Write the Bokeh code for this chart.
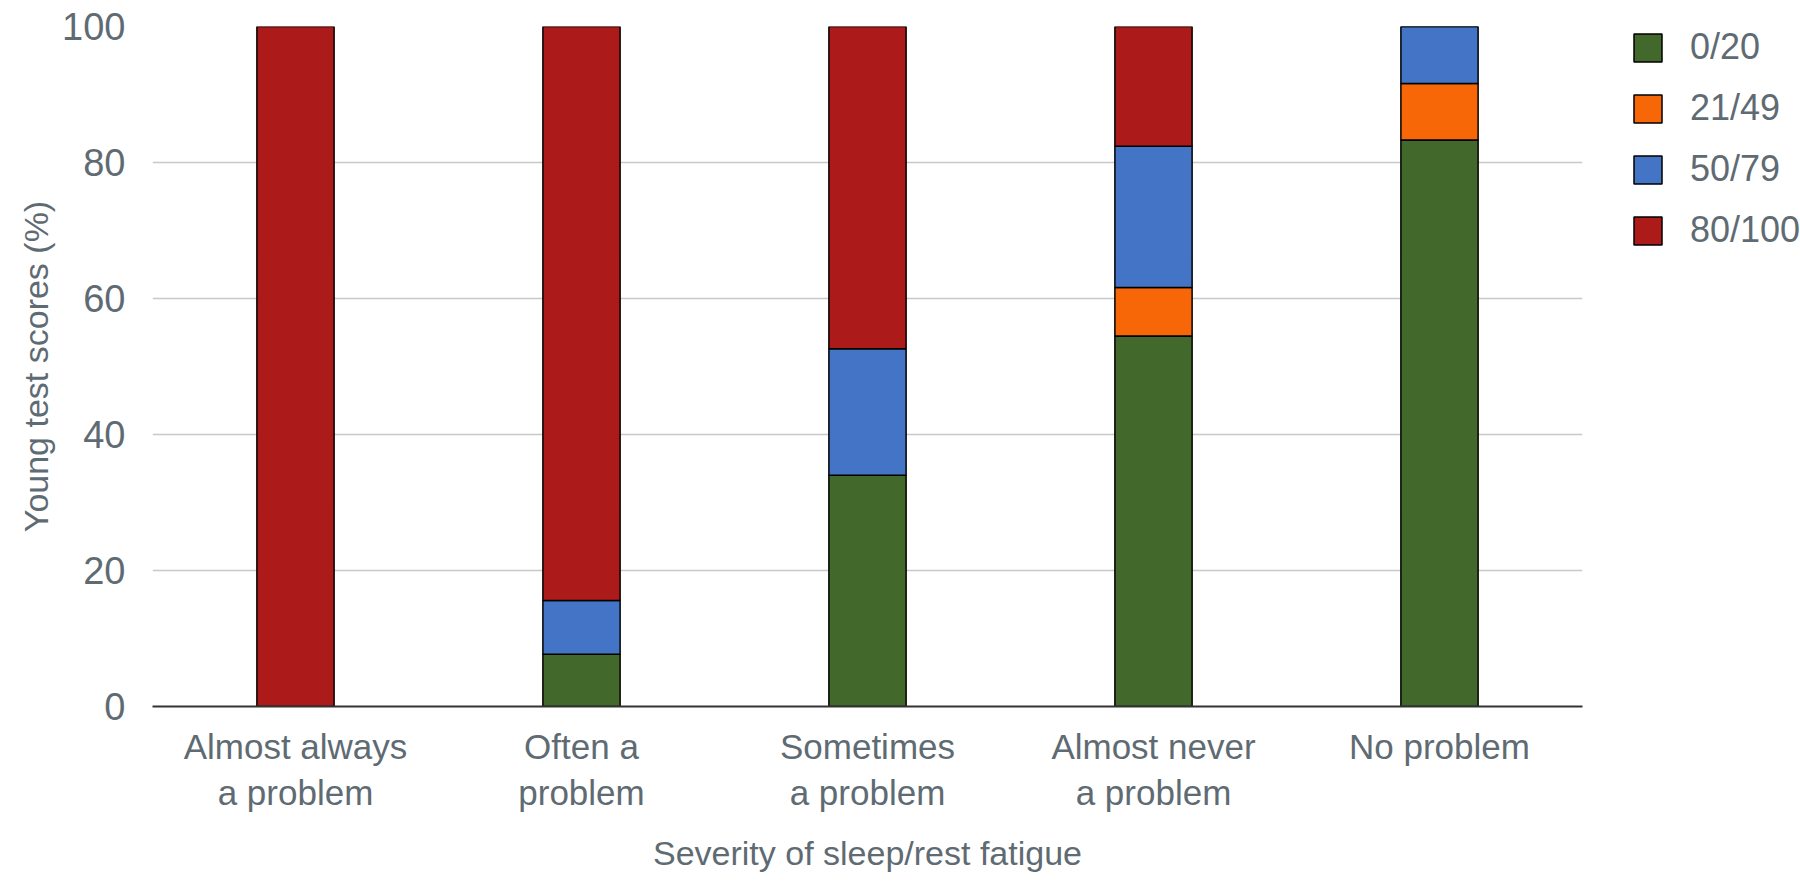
from bokeh.plotting import figure
from bokeh.layouts import row
from bokeh.models import FactorRange, Range1d, Legend, LegendItem, FixedTicker, ColumnDataSource
from bokeh.embed import file_html
from bokeh.resources import INLINE

categories = ["Almost always\na problem", "Often a\nproblem", "Sometimes\na problem",
              "Almost never\na problem", "No problem"]
series = ["0/20", "21/49", "50/79", "80/100"]
s_0_20 = [0.0, 7.7, 34.0, 54.5, 83.3]
s_21_49 = [0.0, 0.0, 0.0, 7.1, 8.3]
s_50_79 = [0.0, 7.9, 18.6, 20.8, 8.4]
s_80_100 = [100.0, 84.4, 47.4, 17.6, 0.0]
colors = ["#43682b", "#f76708", "#4374c5", "#ad1a1a"]

FONT = "Liberation Sans"
TXT = "#5f6b73"

source = ColumnDataSource(data={"cat": categories, "0/20": s_0_20, "21/49": s_21_49,
                                "50/79": s_50_79, "80/100": s_80_100})

p = figure(width=1590, height=881, x_range=FactorRange(*categories), y_range=Range1d(0, 100),
           output_backend="svg", toolbar_location=None,
           min_border_left=152, min_border_right=8, min_border_top=26, min_border_bottom=175)
p.outline_line_color = None

renderers = p.vbar_stack(series, x="cat", width=0.27, source=source, color=colors,
                         line_color="black", line_width=1.5)

p.xgrid.grid_line_color = None
p.ygrid.grid_line_color = "#c8c8c8"
p.ygrid.grid_line_width = 1.5

p.yaxis.ticker = FixedTicker(ticks=[0, 20, 40, 60, 80, 100])
p.yaxis.axis_line_color = None
p.yaxis.major_tick_line_color = None
p.yaxis.minor_tick_line_color = None
p.yaxis.major_label_text_font = FONT
p.yaxis.major_label_text_font_size = "38px"
p.yaxis.major_label_text_color = TXT
p.yaxis.major_label_standoff = 21
p.yaxis.axis_label = "Young test scores (%)"
p.yaxis.axis_label_text_font = FONT
p.yaxis.axis_label_text_font_size = "34px"
p.yaxis.axis_label_text_font_style = "normal"
p.yaxis.axis_label_text_color = TXT
p.yaxis.axis_label_standoff = 4

p.xaxis.axis_line_color = "#333333"
p.xaxis.axis_line_width = 2
p.xaxis.major_tick_line_color = None
p.xaxis.minor_tick_line_color = None
p.xaxis.major_label_text_font = FONT
p.xaxis.major_label_text_font_size = "35px"
p.xaxis.major_label_text_color = TXT
p.xaxis.major_label_standoff = 14
p.xaxis.axis_label = "Severity of sleep/rest fatigue"
p.xaxis.axis_label_text_font = FONT
p.xaxis.axis_label_text_font_size = "34px"
p.xaxis.axis_label_text_font_style = "normal"
p.xaxis.axis_label_text_color = TXT
p.xaxis.axis_label_standoff = 19

# legend panel to the right of the chart; its x range holds only the series names,
# so the stacked bars of this panel have no place on it and only the legend shows
pl = figure(width=210, height=881, x_range=FactorRange(*series), y_range=Range1d(0, 100),
            output_backend="svg", toolbar_location=None,
            x_axis_location=None, y_axis_location=None,
            min_border_left=40, min_border_right=0, min_border_top=24, min_border_bottom=0)
pl.outline_line_color = None
pl.grid.visible = False
swatches = pl.vbar_stack(series, x="cat", width=0.27, source=source, color=colors,
                         line_color="black", line_width=1.5)

legend = Legend(items=[LegendItem(label=s, renderers=[r]) for s, r in zip(series, swatches)],
                location="top_left", glyph_width=35, glyph_height=35,
                label_text_font=FONT, label_text_font_size="36px", label_text_color=TXT,
                label_standoff=25, spacing=19, padding=0, margin=0,
                border_line_color=None, background_fill_alpha=0)
pl.add_layout(legend, "center")

layout = row(p, pl, spacing=0)
open("out.html", "w").write(file_html(layout, INLINE))
